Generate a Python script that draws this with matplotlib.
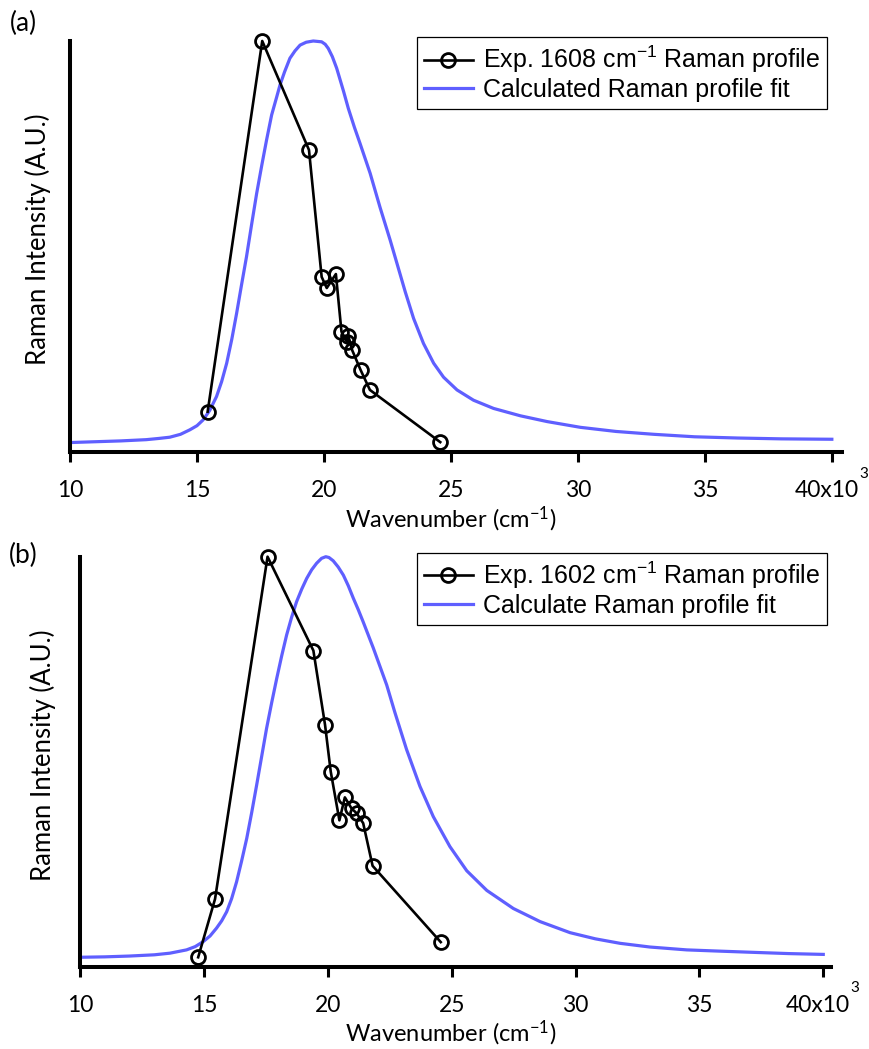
import matplotlib
matplotlib.use('Agg')
import matplotlib.pyplot as plt
import matplotlib.transforms as mtransforms

# wavenumbers are in units of 10^3 cm-1, intensities in arbitrary units (peak = 1)

# panel (a): experimental 1608 cm-1 profile
exp_a_x = [15.42, 17.57, 19.41, 19.91, 20.11, 20.47, 20.69, 20.92, 20.96, 21.11, 21.44, 21.81, 24.58]
exp_a_y = [0.098, 1.0, 0.735, 0.426, 0.399, 0.433, 0.293, 0.267, 0.283, 0.248, 0.200, 0.151, 0.024]

# panel (a): calculated fit
fit_a_x = [10.0, 11.0, 12.0, 13.0, 13.5, 13.93, 14.35, 14.72, 15.0, 15.24, 15.5, 15.77,
           15.97, 16.17, 16.37, 16.56, 16.75, 16.95, 17.15, 17.35, 17.55, 17.74, 17.94, 18.14,
           18.27, 18.45, 18.66, 18.86, 19.06, 19.3, 19.58, 19.91, 20.05, 20.17, 20.33, 20.5,
           20.64, 20.77, 20.96, 21.2, 21.42, 21.82, 22.21, 22.61, 22.87, 23.2, 23.53, 23.92,
           24.32, 24.71, 25.24, 25.89, 26.68, 27.74, 28.79, 30.1, 31.5, 33.0, 34.6, 36.3,
           38.0, 40.0]
fit_a_y = [0.023, 0.025, 0.027, 0.030, 0.033, 0.036, 0.043, 0.054, 0.064, 0.078, 0.101, 0.135,
           0.171, 0.216, 0.274, 0.337, 0.405, 0.475, 0.553, 0.629, 0.697, 0.759, 0.820, 0.864,
           0.893, 0.925, 0.958, 0.976, 0.990, 0.997, 1.0, 0.998, 0.992, 0.982, 0.962, 0.934,
           0.905, 0.878, 0.836, 0.790, 0.751, 0.678, 0.595, 0.515, 0.460, 0.390, 0.325, 0.264,
           0.216, 0.182, 0.151, 0.126, 0.106, 0.088, 0.074, 0.060, 0.050, 0.043, 0.037, 0.034,
           0.032, 0.031]

# panel (b): experimental 1602 cm-1 profile
exp_b_x = [14.77, 15.45, 17.57, 19.42, 19.89, 20.12, 20.47, 20.69, 20.96, 21.17, 21.43, 21.81, 24.56]
exp_b_y = [0.023, 0.165, 1.0, 0.771, 0.590, 0.476, 0.357, 0.413, 0.386, 0.374, 0.350, 0.246, 0.060]

# panel (b): calculated fit
fit_b_x = [10.0, 11.0, 12.0, 13.0, 13.63, 14.3, 14.65, 14.97, 15.25, 15.51, 15.72, 15.92,
           16.12, 16.32, 16.52, 16.73, 16.93, 17.13, 17.33, 17.53, 17.74, 17.94, 18.14, 18.34,
           18.54, 18.74, 18.95, 19.15, 19.35, 19.55, 19.75, 19.92, 20.05, 20.22, 20.42, 20.63,
           20.83, 21.03, 21.23, 21.43, 21.84, 22.38, 22.71, 23.18, 23.72, 24.26, 24.93, 25.61,
           26.42, 27.49, 28.57, 29.78, 30.8, 31.8, 33.0, 34.49, 35.8, 37.18, 38.6, 40.0]
fit_b_y = [0.023, 0.024, 0.026, 0.029, 0.033, 0.041, 0.049, 0.061, 0.075, 0.094, 0.112, 0.134,
           0.166, 0.207, 0.257, 0.313, 0.376, 0.443, 0.512, 0.581, 0.645, 0.703, 0.758, 0.809,
           0.852, 0.890, 0.921, 0.947, 0.968, 0.984, 0.996, 1.0, 0.998, 0.990, 0.975, 0.955,
           0.929, 0.899, 0.871, 0.841, 0.777, 0.687, 0.620, 0.530, 0.440, 0.366, 0.293, 0.234,
           0.186, 0.142, 0.110, 0.083, 0.068, 0.057, 0.048, 0.041, 0.038, 0.035, 0.032, 0.030]

x_ticks = [10, 15, 20, 25, 30, 35, 40]
x_tick_labels = ['10', '15', '20', '25', '30', '35', '40x10']

legend_a = [r'Exp. 1608 cm$\mathregular{^{-1}}$ Raman profile', 'Calculated Raman profile fit']
legend_b = [r'Exp. 1602 cm$\mathregular{^{-1}}$ Raman profile', 'Calculate Raman profile fit']

blue = '#5f5fff'
calibri_like = ['Lato', 'DejaVu Sans']
W, H = 870, 1049


def px(x, y):
    return x / W, 1 - y / H


def draw_panel(ax, exp_x, exp_y, fit_x, fit_y, labels, xmax, legend_x):
    exp_line, = ax.plot(exp_x, exp_y, color='black', lw=1.9, marker='o', ms=10,
                        mfc='none', mec='black', mew=2.0, clip_on=False, zorder=3)
    fit_line, = ax.plot(fit_x, fit_y, color=blue, lw=2.3, clip_on=False, zorder=2)

    ax.set_xlim(10, xmax)
    ax.set_ylim(0, 1.0)
    for side in ['top', 'right']:
        ax.spines[side].set_visible(False)
    for side in ['left', 'bottom']:
        ax.spines[side].set_linewidth(2.9)
    ax.set_yticks([])
    ax.set_xticks(x_ticks)
    ax.set_xticklabels(x_tick_labels, family=calibri_like, fontsize=16.5)
    ax.tick_params(axis='x', direction='out', length=7, width=2.2, pad=13.5)

    # nudge the last label left a little, like the original
    last = ax.get_xticklabels()[-1]
    last.set_transform(last.get_transform() +
                       mtransforms.ScaledTranslation(-0.05, 0, ax.figure.dpi_scale_trans))

    # the x10^3 exponent sits above the right end of the last tick label
    ax.annotate('3', xy=(40, 0), xycoords=('data', 'axes fraction'),
                xytext=(19.5, -15.5), textcoords='offset points',
                family=calibri_like, fontsize=11, ha='left', va='center')

    leg = ax.legend([exp_line, fit_line], labels, loc='upper left',
                    bbox_to_anchor=(legend_x, 1.01), borderaxespad=0,
                    prop={'family': 'Liberation Sans', 'size': 18},
                    frameon=True, fancybox=False, framealpha=1, edgecolor='black',
                    handlelength=1.95, handletextpad=0.4, borderpad=0.28,
                    labelspacing=0.1, numpoints=1)
    leg.get_frame().set_linewidth(0.9)


fig = plt.figure(figsize=(8.7, 10.49), dpi=100)

ax_a = fig.add_axes([70 / W, 1 - 452 / H, 772 / W, 411 / H])
draw_panel(ax_a, exp_a_x, exp_a_y, fit_a_x, fit_a_y, legend_a, 40.4, 0.4495)

ax_b = fig.add_axes([80 / W, 1 - 966.7 / H, 750.7 / W, 410 / H])
draw_panel(ax_b, exp_b_x, exp_b_y, fit_b_x, fit_b_y, legend_b, 40.3, 0.449)

# panel letters and axis titles
fig.text(*px(23, 23), '(a)', family=calibri_like, fontsize=19, ha='center', va='center')
fig.text(*px(23, 555), '(b)', family=calibri_like, fontsize=19, ha='center', va='center')

fig.text(*px(38, 239), 'Raman Intensity (A.U.)', family=calibri_like, fontsize=18.5,
         rotation=90, ha='center', va='center')
fig.text(*px(42.5, 755), 'Raman Intensity (A.U.)', family=calibri_like, fontsize=18.5,
         rotation=90, ha='center', va='center')

fig.text(*px(451, 519), r'Wavenumber (cm$\mathregular{^{-1}}$)', family=calibri_like,
         fontsize=17, ha='center', va='center')
fig.text(*px(451, 1033), r'Wavenumber (cm$\mathregular{^{-1}}$)', family=calibri_like,
         fontsize=17, ha='center', va='center')

fig.savefig('out.png', dpi=100)
